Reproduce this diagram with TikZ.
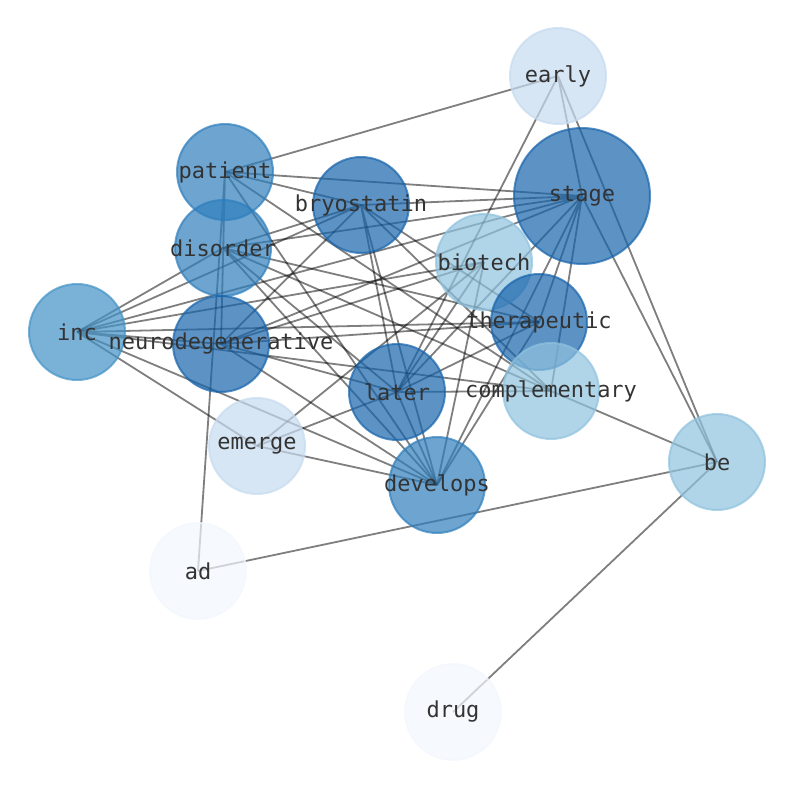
\documentclass[tikz,border=0pt]{standalone}
\usepackage{fontspec}
\setmonofont{DejaVu Sans Mono}
\usetikzlibrary{backgrounds}

\definecolor{bluedark}{HTML}{1764AB}
\definecolor{bluemid}{HTML}{2F7EBC}
\definecolor{bluesoft}{HTML}{4292C6}
\definecolor{bluelight}{HTML}{8FC2DE}
\definecolor{bluepale}{HTML}{C6DBEF}
\definecolor{bluewhite}{HTML}{F2F7FD}

\tikzset{
  term/.style={circle, inner sep=0pt, minimum size=1.92cm,
    fill=#1, draw=#1, line width=0.04cm,
    fill opacity=0.7, draw opacity=0.7},
  termtext/.style={inner sep=0pt, font=\ttfamily\fontsize{12.5}{14}\selectfont, text=black!80},
  edge/.style={black, opacity=0.5, line width=0.036cm}
}

\begin{document}
\begin{tikzpicture}[x=0.02cm, y=-0.02cm]
        \useasboundingbox (0,0) rectangle (794,790);

        % terms
        \node[term=bluepale] (early) at (558,76) {};
        \node[term=bluemid] (patient) at (225,172) {};
        \node[term=bluedark] (bryostatin) at (361,205) {};
        \node[term=bluedark, minimum size=2.72cm] (stage) at (582,196) {};
        \node[term=bluemid] (disorder) at (223,248) {};
        \node[term=bluelight] (biotech) at (484,262) {};
        \node[term=bluesoft] (inc) at (77,332) {};
        \node[term=bluedark] (therapeutic) at (539,322) {};
        \node[term=bluedark] (neurodegenerative) at (221,344) {};
        \node[term=bluedark] (later) at (397,392) {};
        \node[term=bluelight] (complementary) at (551,391) {};
        \node[term=bluepale] (emerge) at (257,446) {};
        \node[term=bluelight] (be) at (717,462) {};
        \node[term=bluemid] (develops) at (437,485) {};
        \node[term=bluewhite] (ad) at (198,571) {};
        \node[term=bluewhite] (drug) at (453,712) {};

        % words on top
        \node[termtext] (early-t) at (early) {early};
        \node[termtext] (patient-t) at (patient) {patient};
        \node[termtext] (bryostatin-t) at (bryostatin) {bryostatin};
        \node[termtext] (stage-t) at (stage) {stage};
        \node[termtext] (disorder-t) at (disorder) {disorder};
        \node[termtext] (biotech-t) at (biotech) {biotech};
        \node[termtext] (inc-t) at (inc) {inc};
        \node[termtext] (therapeutic-t) at (therapeutic) {therapeutic};
        \node[termtext] (neurodegenerative-t) at (neurodegenerative) {neurodegenerative};
        \node[termtext] (later-t) at (later) {later};
        \node[termtext] (complementary-t) at (complementary) {complementary};
        \node[termtext] (emerge-t) at (emerge) {emerge};
        \node[termtext] (be-t) at (be) {be};
        \node[termtext] (develops-t) at (develops) {develops};
        \node[termtext] (ad-t) at (ad) {ad};
        \node[termtext] (drug-t) at (drug) {drug};

        % co-occurrence links, under the terms
        \begin{scope}[on background layer]
        \draw[edge] (early.center) -- (patient.center) (early.center) -- (later.center)
            (early.center) -- (stage.center) (early.center) -- (be.center);
        \draw[edge] (stage.center) -- (be.center) (stage.center) -- (patient.center)
            (stage.center) -- (bryostatin.center) (stage.center) -- (disorder.center)
            (stage.center) -- (neurodegenerative.center) (stage.center) -- (inc.center)
            (stage.center) -- (later.center) (stage.center) -- (therapeutic.center)
            (stage.center) -- (complementary.center) (stage.center) -- (develops.center);
        \draw[edge] (patient.center) -- (bryostatin.center) (patient.center) -- (neurodegenerative.center)
            (patient.center) -- (ad.center) (patient.center) -- (complementary.center)
            (patient.center) -- (develops.center);
        \draw[edge] (bryostatin.center) -- (inc.center) (bryostatin.center) -- (disorder.center)
            (bryostatin.center) -- (neurodegenerative.center) (bryostatin.center) -- (later.center)
            (bryostatin.center) -- (develops.center) (bryostatin.center) -- (complementary.center)
            (bryostatin.center) -- (therapeutic.center);
        \draw[edge] (disorder.center) -- (inc.center) (disorder.center) -- (later.center)
            (disorder.center) -- (develops.center) (disorder.center) -- (therapeutic.center)
            (disorder.center) -- (complementary.center);
        \draw[edge] (inc.center) -- (biotech.center) (inc.center) -- (therapeutic.center)
            (inc.center) -- (neurodegenerative.center) (inc.center) -- (complementary.center)
            (inc.center) -- (develops.center) (inc.center) -- (emerge.center);
        \draw[edge] (neurodegenerative.center) -- (biotech.center)
            (neurodegenerative.center) -- (therapeutic.center)
            (neurodegenerative.center) -- (later.center) (neurodegenerative.center) -- (develops.center);
        \draw[edge] (later.center) -- (therapeutic.center) (later.center) -- (biotech.center)
            (later.center) -- (complementary.center) (later.center) -- (develops.center)
            (later.center) -- (emerge.center);
        \draw[edge] (develops.center) -- (biotech.center) (develops.center) -- (therapeutic.center)
            (develops.center) -- (emerge.center) (emerge.center) -- (biotech.center);
        \draw[edge] (complementary.center) -- (be.center) (be.center) -- (ad.center)
            (be.center) -- (drug.center);
        \end{scope}
    \end{tikzpicture}
\end{document}
